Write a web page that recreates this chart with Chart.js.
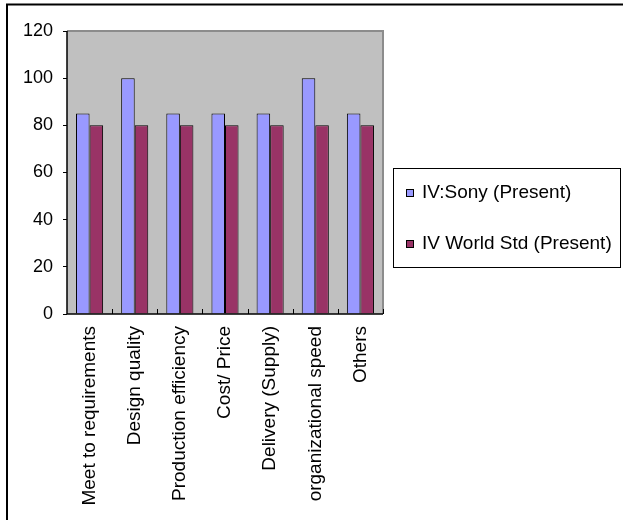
<!DOCTYPE html>
<html>
<head>
<meta charset="utf-8">
<script src="https://cdn.jsdelivr.net/npm/chart.js@4/dist/chart.umd.min.js"></script>
<style>
  html, body { margin: 0; padding: 0; background: #ffffff; }
  #wrap { position: relative; width: 623px; height: 520px; }
</style>
</head>
<body>
<div id="wrap"><canvas id="c" width="623" height="520"></canvas></div>
<script>
const categories = ["Meet to requirements", "Design quality", "Production efficiency", "Cost/ Price", "Delivery (Supply)", "organizational speed", "Others"];
const sonyPresent = [85, 100, 85, 85, 85, 100, 85];
const worldStdPresent = [80, 80, 80, 80, 80, 80, 80];
const seriesNames = ["IV:Sony (Present)", "IV World Std (Present)"];
const yTicks = [0, 20, 40, 60, 80, 100, 120];

const FONT = "'Liberation Sans', Arial, sans-serif";

const framePlugin = {
  id: 'frame',
  beforeDraw(chart) {
    const ctx = chart.ctx;
    const a = chart.chartArea;
    ctx.save();
    ctx.strokeStyle = '#000';
    ctx.lineWidth = 2;
    ctx.beginPath();
    ctx.moveTo(7, 530);
    ctx.lineTo(7, 4.5);
    ctx.lineTo(630, 4.5);
    ctx.stroke();
    ctx.fillStyle = '#C0C0C0';
    ctx.fillRect(a.left, a.top, a.right - a.left, a.bottom - a.top);
    ctx.strokeStyle = '#8c8c8c';
    ctx.lineWidth = 2;
    ctx.beginPath();
    ctx.moveTo(a.left, a.top);
    ctx.lineTo(a.right, a.top);
    ctx.lineTo(a.right, a.bottom);
    ctx.stroke();
    ctx.restore();
  },
  afterDatasetsDraw(chart) {
    const ctx = chart.ctx;
    const a = chart.chartArea;
    const xs = chart.scales.x;
    ctx.save();
    ctx.strokeStyle = '#000';
    ctx.lineWidth = 1;
    const n = chart.data.labels.length;
    const step = (a.right - a.left) / n;
    ctx.beginPath();
    for (let i = 1; i <= n; i++) {
      const x = Math.round(xs.getPixelForValue(i - 1) + step / 2) + 0.5;
      ctx.moveTo(x, a.bottom);
      ctx.lineTo(x, a.bottom - 5);
    }
    ctx.stroke();
    ctx.lineWidth = 1.5;
    ctx.beginPath();
    ctx.moveTo(a.left, a.top);
    ctx.lineTo(a.left, a.bottom);
    ctx.lineTo(a.right, a.bottom);
    ctx.stroke();
    const lx = 393, ly = 168, lw = 227, lh = 99;
    ctx.fillStyle = '#fff';
    ctx.fillRect(lx, ly, lw, lh);
    ctx.strokeStyle = '#000';
    ctx.lineWidth = 1;
    ctx.strokeRect(lx + 0.5, ly + 0.5, lw, lh);
    const ys = [193, 244];
    chart.data.datasets.forEach((ds, i) => {
      ctx.fillStyle = ds.backgroundColor;
      ctx.fillRect(406, ys[i] - 4, 8, 8);
      ctx.strokeStyle = '#000';
      ctx.strokeRect(406.5, ys[i] - 3.5, 7, 7);
      ctx.fillStyle = '#000';
      ctx.font = "19px " + FONT;
      ctx.textBaseline = 'middle';
      ctx.textAlign = 'left';
      ctx.fillText(ds.label, 422, ys[i]);
    });
    ctx.restore();
  }
};

new Chart(document.getElementById('c'), {
  type: 'bar',
  data: {
    labels: categories,
    datasets: [
      { label: seriesNames[0], data: sonyPresent, backgroundColor: '#9999FF', borderColor: '#000', borderWidth: 1 },
      { label: seriesNames[1], data: worldStdPresent, backgroundColor: '#993366', borderColor: '#000', borderWidth: 1 }
    ]
  },
  options: {
    responsive: false,
    animation: false,
    devicePixelRatio: 1,
    layout: { padding: { top: 31, right: 240, left: 0, bottom: 0 } },
    datasets: { bar: { categoryPercentage: 0.6, barPercentage: 1.0 } },
    plugins: { legend: { display: false }, tooltip: { enabled: false } },
    scales: {
      x: {
        grid: { display: false, drawTicks: false },
        border: { display: false },
        ticks: { color: '#000', font: { family: FONT, size: 19 }, maxRotation: 90, minRotation: 90, padding: 12, autoSkip: false },
        afterFit(scale) { scale.height = 206; }
      },
      y: {
        min: 0, max: 120,
        afterBuildTicks(scale) { scale.ticks = yTicks.map(v => ({ value: v })); },
        grid: { drawOnChartArea: false, drawTicks: true, tickLength: 4, color: '#000' },
        border: { display: false },
        ticks: { color: '#000', font: { family: FONT, size: 18 }, padding: 10 },
        afterFit(scale) { scale.width = 67; }
      }
    }
  },
  plugins: [framePlugin]
});
</script>
</body>
</html>
